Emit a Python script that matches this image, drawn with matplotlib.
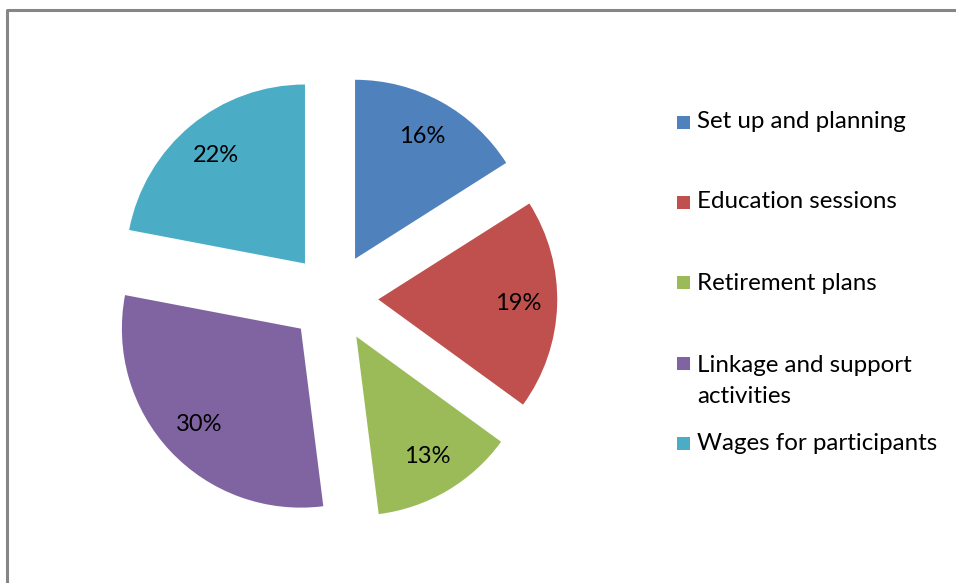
import matplotlib
matplotlib.use("Agg")
import matplotlib.pyplot as plt
from matplotlib.patches import Rectangle
from matplotlib.lines import Line2D

categories = ["Set up and planning", "Education sessions", "Retirement plans",
              "Linkage and support\nactivities", "Wages for participants"]
values = [16, 19, 13, 30, 22]
colors = ["#4F81BD", "#C0504D", "#9BBB59", "#8064A2", "#4BACC6"]

W, H = 956, 583
fig = plt.figure(figsize=(W / 100, H / 100), dpi=100)
plt.rcParams['font.family'] = ['Lato', 'DejaVu Sans']
FS = 17
LFS = 17.4

# pie center (px) and radius (px)
cx, cy, R = 333.5, 298.0, 179.0
ax = fig.add_axes([0, 0, 1, 1])

wedges, texts, autotexts = ax.pie(values, colors=colors, startangle=90, counterclock=False,
                                  explode=[0.25] * len(values), radius=1.0,
                                  autopct='%d%%', pctdistance=0.78,
                                  textprops=dict(fontsize=FS, color='black'))
ax.set_xlim((0 - cx) / R, (W - cx) / R)
ax.set_ylim((cy - H) / R, (cy - 0) / R)
ax.set_aspect('equal')
ax.axis('off')

# frame
fig.add_artist(Line2D([7 / W, 7 / W, 1.0], [0.0, 1 - 10 / H, 1 - 10 / H],
                      transform=fig.transFigure, color='#868686', lw=2.2))

# legend (manual)
leg_y = [122, 202, 283, 363, 443]
for lab, col, y in zip(categories, colors, leg_y):
    fig.add_artist(Rectangle((677 / W, 1 - (y + 6.5) / H), 13 / W, 13 / H,
                             transform=fig.transFigure, facecolor=col, edgecolor='none'))
    if '\n' in lab:
        fig.text(697 / W, 1 - (y - 8) / H, lab, fontsize=LFS, va='top', ha='left',
                 color='black', linespacing=1.6, transform=fig.transFigure)
    else:
        fig.text(697 / W, 1 - y / H, lab, fontsize=LFS, va='center', ha='left',
                 color='black', transform=fig.transFigure)

fig.savefig("out.png", dpi=100, facecolor='white')
